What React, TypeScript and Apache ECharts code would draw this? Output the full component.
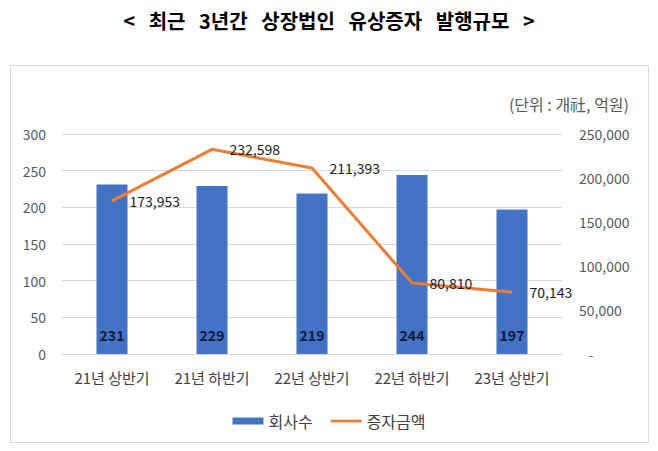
import React, { useEffect, useRef } from "react";
import * as echarts from "echarts";

const titleText = "<   최근   3년간   상장법인   유상증자   발행규모   >";
const unitText = "(단위 : 개社, 억원)";
const categories = ["21년 상반기", "21년 하반기", "22년 상반기", "22년 하반기", "23년 상반기"];
const companyCounts = [231, 229, 219, 244, 197];
const issueAmounts = [173953, 232598, 211393, 80810, 70143];
const seriesNames = ["회사수", "증자금액"];

const FONT = "'Noto Sans CJK KR', 'Noto Sans', sans-serif";

export default function App() {
  const ref = useRef<HTMLDivElement>(null);
  useEffect(() => {
    if (!ref.current) return;
    const chart = echarts.init(ref.current, null, { renderer: "svg" });
    chart.setOption({
      animation: false,
      backgroundColor: "#ffffff",
      textStyle: { fontFamily: FONT },
      graphic: [
        {
          type: "rect",
          shape: { x: 10.5, y: 65.5, width: 638, height: 377 },
          style: { fill: "none", stroke: "#d9d9d9", lineWidth: 1 },
          silent: true,
        },
        {
          type: "text",
          x: 329,
          y: 20,
          style: {
            text: titleText,
            font: `bold 20px ${FONT}`,
            fill: "#000000",
            textAlign: "center",
            textVerticalAlign: "middle",
          },
        },
        {
          type: "text",
          x: 629,
          y: 104,
          style: {
            text: unitText,
            font: `16px ${FONT}`,
            fill: "#595959",
            textAlign: "right",
            textVerticalAlign: "middle",
          },
        },
      ],
      legend: {
        data: [
          { name: seriesNames[0], icon: "rect" },
          { name: seriesNames[1], icon: "path://M0,0H34V3H0Z" },
        ],
        left: "center",
        top: 408,
        itemWidth: 31,
        itemHeight: 7,
        itemGap: 18,
        textStyle: { fontSize: 16, color: "#404040", fontFamily: FONT },
      },
      grid: { left: 62, right: 96, top: 134, bottom: 97 },
      xAxis: {
        type: "category",
        data: categories,
        axisLine: { lineStyle: { color: "#d9d9d9" } },
        axisTick: { show: false },
        axisLabel: { fontSize: 15, color: "#404040", margin: 16, fontFamily: FONT },
      },
      yAxis: [
        {
          type: "value",
          min: 0,
          max: 300,
          interval: 50,
          axisLine: { show: false },
          axisTick: { show: false },
          splitLine: { lineStyle: { color: "#d9d9d9" } },
          axisLabel: { fontSize: 14, color: "#595959", margin: 16, fontFamily: FONT },
        },
        {
          type: "value",
          min: 0,
          max: 250000,
          interval: 50000,
          axisLine: { show: false },
          axisTick: { show: false },
          splitLine: { show: false },
          axisLabel: {
            fontSize: 14,
            color: "#595959",
            margin: 17,
            fontFamily: FONT,
            formatter: (v: number) => (v === 0 ? "   -" : v.toLocaleString("en-US")),
          },
        },
      ],
      series: [
        {
          name: seriesNames[0],
          type: "bar",
          data: companyCounts,
          barWidth: 31,
          itemStyle: { color: "#4472C4" },
          label: {
            show: true,
            position: "insideBottom",
            distance: 12,
            fontSize: 14,
            fontWeight: "bold",
            color: "#0d1b3e",
            fontFamily: FONT,
          },
        },
        {
          name: seriesNames[1],
          type: "line",
          yAxisIndex: 1,
          data: issueAmounts,
          symbol: "circle",
          symbolSize: 1,
          showSymbol: true,
          lineStyle: { color: "#ED7D31", width: 3 },
          itemStyle: { color: "#ED7D31" },
          label: {
            show: true,
            position: "right",
            distance: 17,
            fontSize: 14,
            color: "#1a1a1a",
            fontFamily: FONT,
            formatter: (p: any) => Number(p.value).toLocaleString("en-US"),
          },
        },
      ],
    });
    return () => chart.dispose();
  }, []);
  return (
    <div
      ref={ref}
      style={{ position: "fixed", left: 0, top: 0, width: 658, height: 451 }}
    />
  );
}
